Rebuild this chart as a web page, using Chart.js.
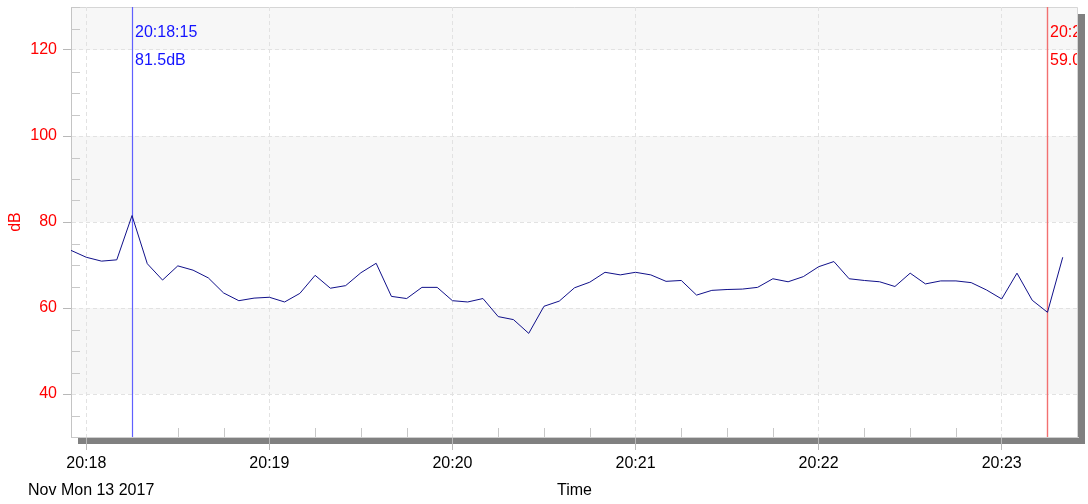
<!DOCTYPE html>
<html>
<head>
<meta charset="utf-8">
<script src="https://cdn.jsdelivr.net/npm/chart.js@4.4.1/dist/chart.umd.min.js"></script>
<style>
  html, body { margin: 0; padding: 0; background: #ffffff; }
  #wrap { width: 1088px; height: 504px; }
</style>
</head>
<body>
<div id="wrap"><canvas id="c" width="1088" height="504"></canvas></div>
<script>
// Sound level log, one reading every 5 seconds
const sessionDate = 'Nov Mon 13 2017';
const axisOrigin = '20:18:00';

const sampleTimes = [
  '20:17:55',
  '20:18:00','20:18:05','20:18:10','20:18:15','20:18:20','20:18:25','20:18:30','20:18:35','20:18:40','20:18:45','20:18:50','20:18:55',
  '20:19:00','20:19:05','20:19:10','20:19:15','20:19:20','20:19:25','20:19:30','20:19:35','20:19:40','20:19:45','20:19:50','20:19:55',
  '20:20:00','20:20:05','20:20:10','20:20:15','20:20:20','20:20:25','20:20:30','20:20:35','20:20:40','20:20:45','20:20:50','20:20:55',
  '20:21:00','20:21:05','20:21:10','20:21:15','20:21:20','20:21:25','20:21:30','20:21:35','20:21:40','20:21:45','20:21:50','20:21:55',
  '20:22:00','20:22:05','20:22:10','20:22:15','20:22:20','20:22:25','20:22:30','20:22:35','20:22:40','20:22:45','20:22:50','20:22:55',
  '20:23:00','20:23:05','20:23:10','20:23:15','20:23:20'
];

const levels = [
  73.4,
  71.8, 70.9, 71.2, 81.5, 70.3, 66.5, 69.8, 68.8, 67.0, 63.5, 61.7, 62.3,
  62.5, 61.4, 63.4, 67.6, 64.6, 65.2, 68.2, 70.4, 62.7, 62.2, 64.8, 64.8,
  61.7, 61.4, 62.2, 58.0, 57.3, 54.1, 60.4, 61.6, 64.7, 66.0, 68.3, 67.7,
  68.3, 67.7, 66.2, 66.4, 63.0, 64.1, 64.3, 64.4, 64.8, 66.8, 66.1, 67.3,
  69.6, 70.8, 66.8, 66.4, 66.1, 65.0, 68.1, 65.6, 66.3, 66.3, 65.9, 64.2,
  62.1, 68.1, 61.8, 59.0, 71.8
];

const minuteLabels = ['20:18', '20:19', '20:20', '20:21', '20:22', '20:23'];
const yMajorTicks = [40, 60, 80, 100, 120];
const shadedBands = [[120, 130], [80, 100], [40, 60]];
const cursorTimes = ['20:18:15', '20:23:15'];
const cursorColors = [
  { line: 'rgb(96,96,255)', width: 1.2, text: '#1414ff' },
  { line: 'rgb(242,112,112)', width: 1.4, text: '#ff0000' }
];

const FONT = "'Liberation Sans', Arial, sans-serif";
Chart.defaults.font.family = FONT;
Chart.defaults.font.size = 16;

function toSec(t) {
  const p = t.split(':').map(Number);
  const o = axisOrigin.split(':').map(Number);
  return (p[0] * 3600 + p[1] * 60 + p[2]) - (o[0] * 3600 + o[1] * 60 + o[2]);
}

const points = sampleTimes.map((t, i) => ({ x: toSec(t), y: levels[i] }));

const X_MIN = toSec('20:17:55');
const X_MAX = toSec('20:23:25');
const X_MINOR = 15;
const Y_MINOR = 5;

const framePlugin = {
  id: 'frame',
  beforeDraw(chart) {
    const { ctx, chartArea: a, scales: { y } } = chart;
    const w = a.right - a.left, h = a.bottom - a.top;
    ctx.save();
    ctx.fillStyle = '#808080';
    ctx.fillRect(a.left + 7, a.top + 7, w, h);
    ctx.fillStyle = '#ffffff';
    ctx.fillRect(a.left, a.top, w, h);
    ctx.fillStyle = '#f7f7f7';
    for (const [lo, hi] of shadedBands) {
      const y1 = y.getPixelForValue(hi), y2 = y.getPixelForValue(lo);
      ctx.fillRect(a.left, y1, w, y2 - y1);
    }
    ctx.strokeStyle = '#d6d6d6';
    ctx.lineWidth = 1;
    ctx.beginPath();
    ctx.moveTo(a.left, a.top + 0.5);
    ctx.lineTo(a.right - 0.5, a.top + 0.5);
    ctx.lineTo(a.right - 0.5, a.bottom);
    ctx.stroke();
    ctx.restore();
  },
  beforeDatasetsDraw(chart) {
    const { ctx, chartArea: a, scales: { x, y } } = chart;
    ctx.save();
    // short inner ticks between the labelled ones
    ctx.strokeStyle = '#c8c8c8';
    ctx.lineWidth = 1;
    ctx.beginPath();
    for (let v = y.min; v <= y.max; v += Y_MINOR) {
      if (yMajorTicks.includes(v)) continue;
      const py = Math.round(y.getPixelForValue(v)) + 0.5;
      ctx.moveTo(a.left, py);
      ctx.lineTo(a.left + 9, py);
    }
    for (const t of x.ticks) {
      if (t.value % 60 === 0) continue;
      const px = Math.round(x.getPixelForValue(t.value)) + 0.5;
      ctx.moveTo(px, a.bottom);
      ctx.lineTo(px, a.bottom - 9);
    }
    ctx.stroke();
    ctx.restore();

    // cursor lines with their time and level readouts
    cursorTimes.forEach((t, i) => {
      const idx = sampleTimes.indexOf(t);
      const px = Math.round(x.getPixelForValue(toSec(t))) + 0.5;
      ctx.save();
      ctx.lineWidth = cursorColors[i].width;
      ctx.strokeStyle = cursorColors[i].line;
      ctx.beginPath();
      ctx.moveTo(px, a.top);
      ctx.lineTo(px, a.bottom);
      ctx.stroke();
      ctx.beginPath();
      ctx.rect(a.left, a.top, a.right - a.left - 1, a.bottom - a.top);
      ctx.clip();
      ctx.fillStyle = cursorColors[i].text;
      ctx.font = '16px ' + FONT;
      ctx.textBaseline = 'middle';
      ctx.textAlign = 'left';
      ctx.fillText(t, px + 2.5, a.top + 26);
      ctx.fillText(levels[idx].toFixed(1) + 'dB', px + 2.5, a.top + 54);
      ctx.restore();
    });
  },
  afterDraw(chart) {
    const { ctx } = chart;
    ctx.save();
    ctx.fillStyle = '#000000';
    ctx.font = '16px ' + FONT;
    ctx.textBaseline = 'middle';
    ctx.textAlign = 'left';
    ctx.fillText(sessionDate, 28, 491);
    ctx.restore();
  }
};

new Chart(document.getElementById('c'), {
  type: 'line',
  data: {
    datasets: [{
      data: points,
      borderColor: '#10108a',
      borderWidth: 1,
      pointRadius: 0,
      tension: 0,
      fill: false
    }]
  },
  options: {
    responsive: false,
    animation: false,
    devicePixelRatio: 1,
    layout: { padding: { top: 7, right: 10, left: 0, bottom: 0 } },
    plugins: { legend: { display: false }, tooltip: { enabled: false } },
    scales: {
      x: {
        type: 'linear',
        min: X_MIN,
        max: X_MAX,
        afterBuildTicks(scale) {
          const ticks = [];
          for (let v = Math.ceil(X_MIN / X_MINOR) * X_MINOR; v <= X_MAX; v += X_MINOR) ticks.push({ value: v });
          scale.ticks = ticks;
        },
        afterFit(scale) {
          scale.height = 67;
          scale.paddingLeft = 0;
          scale.paddingRight = 0;
        },
        ticks: {
          autoSkip: false,
          maxRotation: 0,
          padding: 4,
          color: '#000000',
          font: { size: 16 },
          callback: (v) => (v % 60 === 0 ? minuteLabels[v / 60] : '')
        },
        grid: {
          color: (c) => (c.tick && c.tick.value % 60 === 0 ? '#e2e2e2' : 'rgba(0,0,0,0)'),
          tickColor: (c) => (c.tick && c.tick.value % 60 === 0 ? '#b8b8b8' : 'rgba(0,0,0,0)'),
          tickLength: 13,
          tickBorderDash: [],
          lineWidth: 1
        },
        border: { display: true, color: '#cfcfcf', width: 1, dash: [4, 3] },
        title: { display: true, text: 'Time', color: '#000000', font: { size: 16 }, padding: { top: 4, bottom: 4 } }
      },
      y: {
        min: 30,
        max: 130,
        afterBuildTicks(scale) {
          const ticks = [];
          for (let v = 30; v <= 130; v += Y_MINOR) ticks.push({ value: v });
          scale.ticks = ticks;
        },
        afterFit(scale) {
          scale.width = 71;
          scale.paddingTop = 0;
          scale.paddingBottom = 0;
        },
        ticks: {
          autoSkip: false,
          padding: 6,
          color: '#ff0000',
          font: { size: 16 },
          callback: (v) => (yMajorTicks.includes(v) ? String(v) : '')
        },
        grid: {
          color: (c) => (c.tick && yMajorTicks.includes(c.tick.value) ? '#e2e2e2' : 'rgba(0,0,0,0)'),
          tickColor: (c) => (c.tick && yMajorTicks.includes(c.tick.value) ? '#b8b8b8' : 'rgba(0,0,0,0)'),
          tickLength: 8,
          tickBorderDash: [],
          lineWidth: 1
        },
        border: { display: true, color: '#c4c4c4', width: 1, dash: [4, 3] },
        title: { display: true, text: 'dB', color: '#ff0000', font: { size: 16 }, padding: { top: 6, bottom: 4 } }
      }
    }
  },
  plugins: [framePlugin]
});
</script>
</body>
</html>
